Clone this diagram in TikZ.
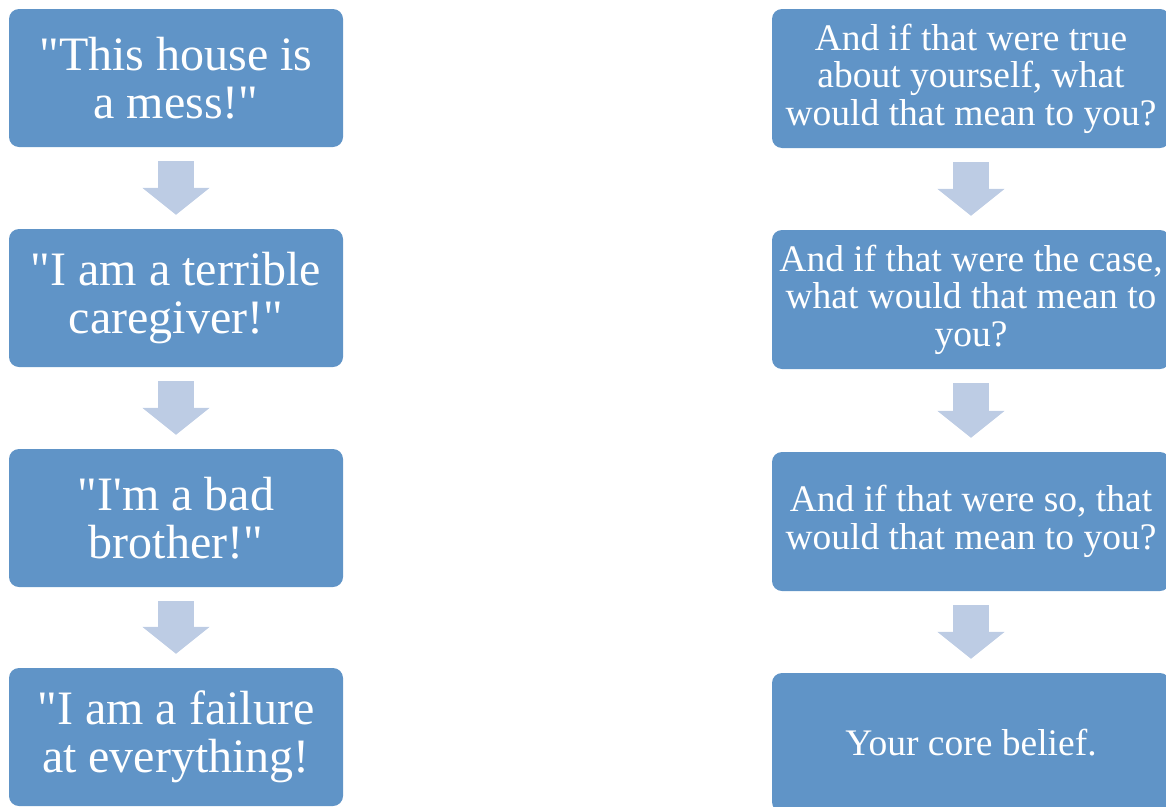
\documentclass[tikz,border=0pt]{standalone}
\usepackage{fontspec}
% a family of its own, so straight quotes stay straight
\newfontfamily\boxfont{Liberation Serif}
\usetikzlibrary{arrows.meta}
\definecolor{boxblue}{RGB}{96,148,199}
\definecolor{arrowblue}{RGB}{189,204,228}
\begin{document}
\begin{tikzpicture}[x=1pt,y=-1pt,
  box/.style={fill=boxblue, rounded corners=10pt, text=white, align=center, inner sep=0pt},
  leftbox/.style={box, minimum width=334pt, minimum height=138pt,
    font=\boxfont\fontsize{48}{48.4}\selectfont},
  rightbox/.style={box, minimum width=398pt, minimum height=139pt,
    font=\boxfont\fontsize{37.5}{37.5}\selectfont},
  flow/.style={draw=arrowblue, line width=36pt,
    -{Triangle[width=66pt,length=27pt]}, shorten <=14pt, shorten >=14pt}]
\useasboundingbox (0,0) rectangle (1166,806);

% left column: the thought chain
\node[leftbox] (l1) at (176,78)  {"This house is\\a mess!"};
\node[leftbox] (l2) at (176,298) {"I am a terrible\\caregiver!"};
\node[leftbox] (l3) at (176,518) {"I'm a bad\\brother!"};
\node[leftbox] (l4) at (176,737) {"I am a failure\\at everything!};

% right column: the guiding questions
\node[rightbox] (r1) at (971,78.5)  {And if that were true\\about yourself, what\\would that mean to you?};
\node[rightbox] (r2) at (971,299.5) {And if that were the case,\\what would that mean to\\you?};
\node[rightbox] (r3) at (971,521.5) {And if that were so, that\\would that mean to you?};
\node[rightbox] (r4) at (971,742.5) {Your core belief.};

% block arrows between the steps
\draw[flow] (l1.south) -- (l2.north);
\draw[flow] (l2.south) -- (l3.north);
\draw[flow] (l3.south) -- (l4.north);
\draw[flow] (r1.south) -- (r2.north);
\draw[flow] (r2.south) -- (r3.north);
\draw[flow] (r3.south) -- (r4.north);
\end{tikzpicture}
\end{document}
